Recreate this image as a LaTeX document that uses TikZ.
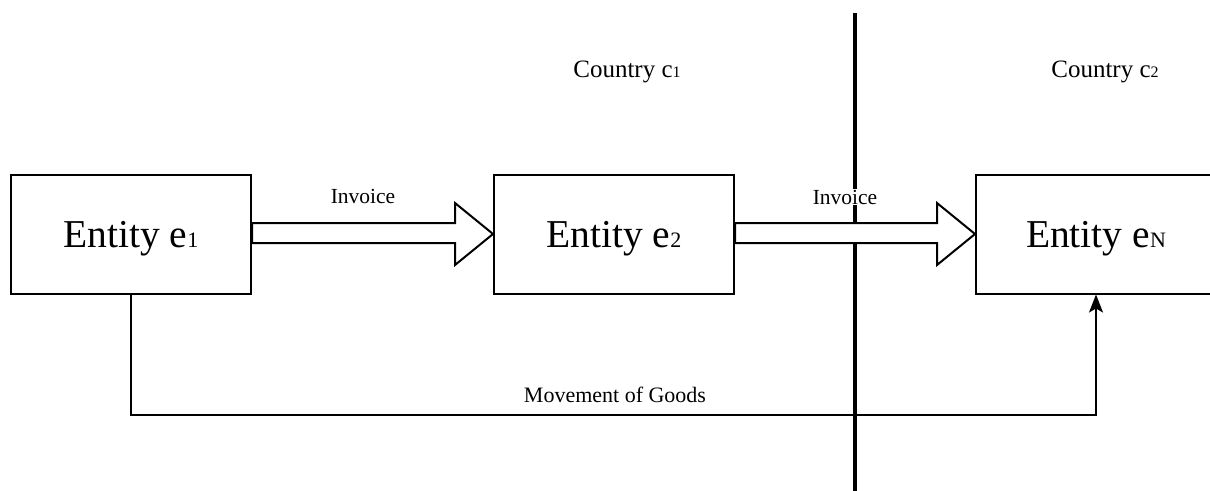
\documentclass[tikz,border=0pt]{standalone}
\usepackage{fontspec}
\setmainfont{Liberation Serif}
\usetikzlibrary{arrows.meta,calc}

% small index digit set on the baseline, after the main letter
\newcommand{\idx}[2]{{\fontsize{#1}{#1}\selectfont #2}}

\begin{document}
\begin{tikzpicture}[x=1pt,y=-1pt,
  entity/.style={draw, line width=2pt, fill=white, minimum width=240pt,
    minimum height=119pt, inner sep=0pt, text depth=0pt,
    font=\fontsize{39.5}{46}\selectfont},
  fatarrow/.style={draw, line width=2pt, fill=white, line join=miter},
  lbl/.style={inner sep=1pt, font=\fontsize{21.5}{26}\selectfont},
  country/.style={inner sep=0pt, font=\fontsize{25}{29}\selectfont},
  border/.style={line width=3.5pt},
  goods/.style={line width=1.5pt, -{Stealth[length=18pt,width=14pt,inset=4pt]}}]

\useasboundingbox (0,0) rectangle (1210,490);
\clip (0,0) rectangle (1210,490);

% country border
\coordinate (btop) at (855,13);
\coordinate (bbot) at (855,495);
\draw[border] (btop) -- (bbot);

% entities
\node[entity] (e1) at (131,234) {Entity e\idx{22}{1}};
\node[entity] (e2) at (614,234) {Entity e\idx{22}{2}};
\node[entity] (eN) at (1096,234) {Entity e\idx{22}{N}};

% invoice flows
\draw[fatarrow] ($(e1.east)+(0,-11)$) -- ($(e2.west)+(-38,-11)$)
  -- ($(e2.west)+(-38,-31)$) -- (e2.west) -- ($(e2.west)+(-38,31)$)
  -- ($(e2.west)+(-38,9)$) -- ($(e1.east)+(0,9)$) -- cycle;
\draw[fatarrow] ($(e2.east)+(0,-11)$) -- ($(eN.west)+(-38,-11)$)
  -- ($(eN.west)+(-38,-31)$) -- (eN.west) -- ($(eN.west)+(-38,31)$)
  -- ($(eN.west)+(-38,9)$) -- ($(e2.east)+(0,9)$) -- cycle;

\node[lbl] (inv1) at (363,196) {Invoice};
\node[lbl, fill=white] (inv2) at (845,197) {Invoice};

% movement of goods
\coordinate (gcorner) at (131,415);
\draw[goods] (e1.south) -- (gcorner) -| (eN.south);
\node[lbl, font=\fontsize{22}{26}\selectfont] (mog) at (615,395) {Movement of Goods};

% countries
\node[country] (c1) at (627,72) {Country c\idx{16}{1}};
\node[country] (c2) at (1105,72) {Country c\idx{16}{2}};
\end{tikzpicture}
\end{document}
